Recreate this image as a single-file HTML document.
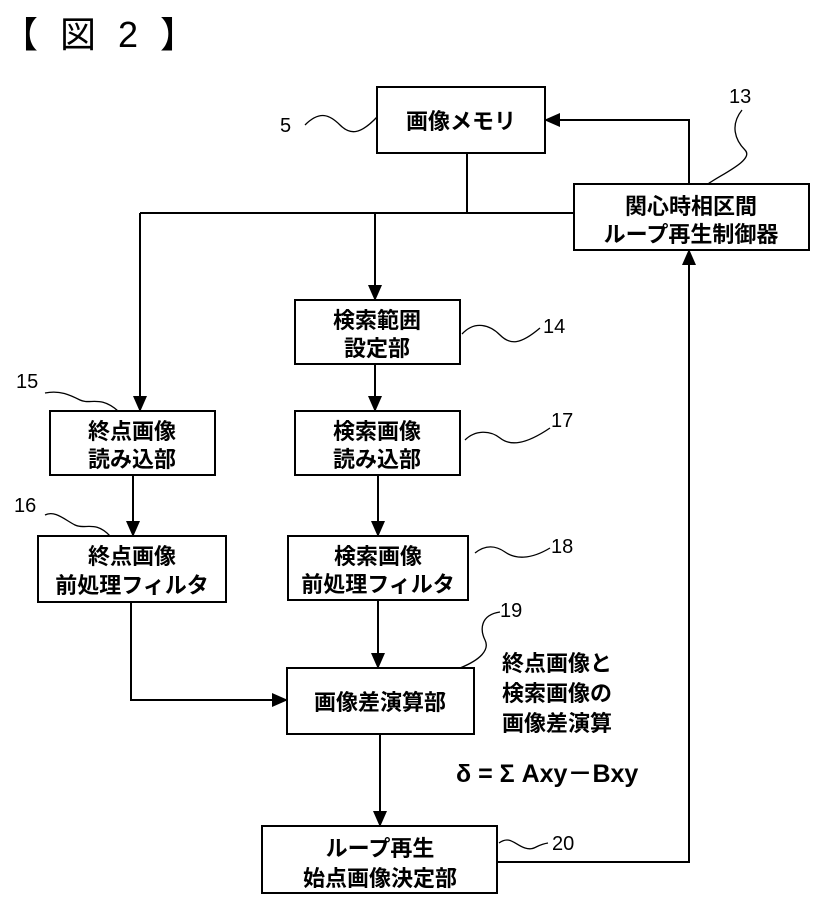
<!DOCTYPE html>
<html><head><meta charset="utf-8"><style>
body{margin:0;background:#fff;}
svg text{font-family:"Liberation Sans","Noto Sans CJK JP",sans-serif;fill:#000;}
.b{font-weight:bold;font-size:22px;}
</style></head><body>
<svg width="815" height="900" xmlns="http://www.w3.org/2000/svg">
<defs><marker id="h" markerWidth="16" markerHeight="14" refX="15" refY="7" orient="auto" markerUnits="userSpaceOnUse"><path d="M0,0 L16,7 L0,14 z" fill="#000"/></marker></defs>
<text x="2" y="47" font-size="36" letter-spacing="6">【 図 2 】</text>
<g fill="none" stroke="#000" stroke-width="2">
<rect x="377" y="87" width="168" height="66"/>
<rect x="574" y="184" width="235" height="66"/>
<rect x="295" y="300" width="165" height="64"/>
<rect x="50" y="411" width="165" height="64"/>
<rect x="295" y="411" width="165" height="64"/>
<rect x="38" y="536" width="188" height="66"/>
<rect x="288" y="536" width="180" height="64"/>
<rect x="287" y="668" width="187" height="66"/>
<rect x="262" y="826" width="235" height="67"/>
<path d="M467 153 V213 M140 213 H574"/>
<path d="M375 213 V300" marker-end="url(#h)"/>
<path d="M140 213 V411" marker-end="url(#h)"/>
<path d="M689 184 V120 H545" marker-end="url(#h)"/>
<path d="M375 364 V411" marker-end="url(#h)"/>
<path d="M133 475 V536" marker-end="url(#h)"/>
<path d="M378 475 V536" marker-end="url(#h)"/>
<path d="M378 600 V668" marker-end="url(#h)"/>
<path d="M131 602 V700 H287" marker-end="url(#h)"/>
<path d="M380 734 V826" marker-end="url(#h)"/>
<path d="M497 862 H689 V250" marker-end="url(#h)"/>
<g stroke-width="1.3">
<path d="M305 125 C320 110,330 115,340 125 S360 135,377 117"/>
<path d="M742 110 C730 125,735 140,745 150 S720 175,708 184"/>
<path d="M462 334 C475 320,490 325,500 335 S520 345,540 328"/>
<path d="M45 393 C60 390,70 395,80 400 S100 395,118 411"/>
<path d="M45 515 C55 510,65 520,75 525 S95 520,110 536"/>
<path d="M465 440 C475 430,490 430,500 438 S525 445,550 428"/>
<path d="M475 553 C485 545,495 545,505 552 S530 560,550 548"/>
<path d="M460 668 C480 660,490 650,485 640 S480 615,500 612"/>
<path d="M499 843 C510 835,515 845,525 848 S535 845,548 843"/>
</g></g>
<g class="b" text-anchor="middle">
<text x="461" y="129">画像メモリ</text>
<text x="691" y="214">関心時相区間</text>
<text x="691" y="242">ループ再生制御器</text>
<text x="377" y="328">検索範囲</text>
<text x="377" y="356">設定部</text>
<text x="132" y="439">終点画像</text>
<text x="132" y="467">読み込部</text>
<text x="377" y="439">検索画像</text>
<text x="377" y="467">読み込部</text>
<text x="132" y="564">終点画像</text>
<text x="132" y="593">前処理フィルタ</text>
<text x="378" y="564">検索画像</text>
<text x="378" y="592">前処理フィルタ</text>
<text x="380" y="710">画像差演算部</text>
<text x="380" y="856">ループ再生</text>
<text x="380" y="886">始点画像決定部</text>
</g>
<g class="b">
<text x="502" y="671">終点画像と</text>
<text x="502" y="701">検索画像の</text>
<text x="502" y="731">画像差演算</text>
<text x="456" y="782" font-size="25">δ = Σ Axy－Bxy</text>
</g>
<g font-size="20">
<text x="280" y="132">5</text>
<text x="729" y="103">13</text>
<text x="543" y="333">14</text>
<text x="16" y="388">15</text>
<text x="14" y="512">16</text>
<text x="551" y="427">17</text>
<text x="551" y="553">18</text>
<text x="500" y="617">19</text>
<text x="552" y="850">20</text>
</g>
</svg>
</body></html>
